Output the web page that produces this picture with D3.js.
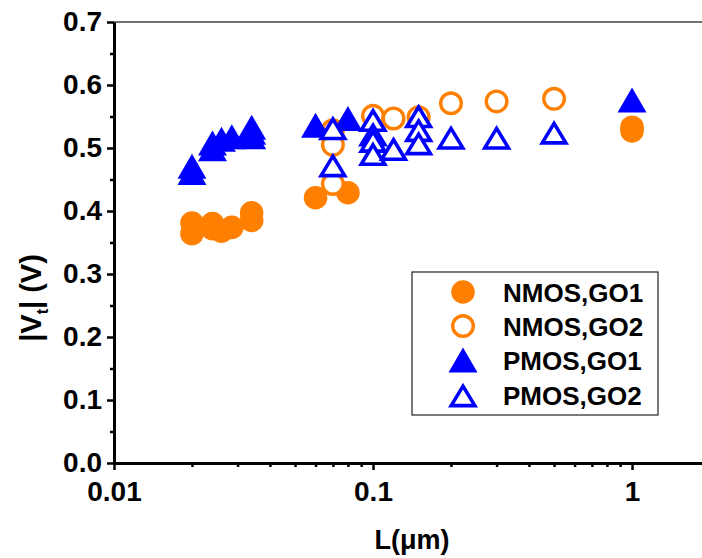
<!DOCTYPE html>
<html><head><meta charset="utf-8">
<script src="https://cdn.jsdelivr.net/npm/d3@7"></script>
<style>
html,body{margin:0;padding:0;background:#fff;}
text{font-family:Arial,"Liberation Sans",sans-serif;font-weight:bold;}
</style></head>
<body>
<svg id="chart" width="702" height="558"></svg>
<script>
// ---- data ----
const nmosGO1_L = [0.02, 0.02, 0.024, 0.024, 0.026, 0.0285, 0.034, 0.034, 0.06, 0.08, 1, 1];
const nmosGO1_V = [0.381, 0.364, 0.380, 0.372, 0.368, 0.374, 0.397, 0.385, 0.421, 0.429, 0.533, 0.527];
const nmosGO2_L = [0.07, 0.07, 0.07, 0.1, 0.12, 0.15, 0.2, 0.3, 0.5];
const nmosGO2_V = [0.528, 0.505, 0.443, 0.551, 0.547, 0.549, 0.571, 0.574, 0.578];
const pmosGO1_L = [0.02, 0.02, 0.024, 0.024, 0.026, 0.0285, 0.034, 0.034, 0.034, 0.06, 0.08, 1];
const pmosGO1_V = [0.471, 0.461, 0.508, 0.499, 0.514, 0.518, 0.533, 0.525, 0.518, 0.536, 0.547, 0.576];
const pmosGO2_L = [0.07, 0.07, 0.1, 0.1, 0.1, 0.1, 0.12, 0.15, 0.15, 0.15, 0.2, 0.3, 0.5];
const pmosGO2_V = [0.532, 0.473, 0.545, 0.522, 0.512, 0.491, 0.499, 0.551, 0.529, 0.508, 0.517, 0.517, 0.525];
const seriesNames = ["NMOS,GO1", "NMOS,GO2", "PMOS,GO1", "PMOS,GO2"];
const yTicks = [0, 0.1, 0.2, 0.3, 0.4, 0.5, 0.6, 0.7];
const yMinor = [0.05, 0.15, 0.25, 0.35, 0.45, 0.55, 0.65];
const xTicks = [0.01, 0.1, 1];
const xTickLabels = ["0.01", "0.1", "1"];
const xMinor = [0.02,0.03,0.04,0.05,0.06,0.07,0.08,0.09,0.2,0.3,0.4,0.5,0.6,0.7,0.8,0.9];

const ORANGE = "#FF8000", BLUE = "#0000FF";
const series = [
  {name: seriesNames[0], L: nmosGO1_L, V: nmosGO1_V, shape: "circle", filled: true,  color: ORANGE},
  {name: seriesNames[1], L: nmosGO2_L, V: nmosGO2_V, shape: "circle", filled: false, color: ORANGE},
  {name: seriesNames[2], L: pmosGO1_L, V: pmosGO1_V, shape: "tri",    filled: true,  color: BLUE},
  {name: seriesNames[3], L: pmosGO2_L, V: pmosGO2_V, shape: "tri",    filled: false, color: BLUE}
];

const svg = d3.select("#chart");
const x = d3.scaleLog().domain([0.01, 2]).range([114, 710]);
const y = d3.scaleLinear().domain([0, 0.7]).range([463, 22]);

// top frame line
svg.append("line").attr("x1", 114).attr("x2", 702).attr("y1", 22).attr("y2", 22)
  .attr("stroke", "#444").attr("stroke-width", 1.5);

// y axis
svg.append("g").attr("transform", "translate(114,0)")
  .call(d3.axisLeft(y).tickValues(yTicks).tickFormat(d3.format(".1f")).tickSize(7).tickSizeOuter(0).tickPadding(5));
svg.append("g").attr("transform", "translate(114,0)")
  .call(d3.axisLeft(y).tickValues(yMinor).tickFormat("").tickSize(4).tickSizeOuter(0))
  .select(".domain").remove();
// x axis
const gx = svg.append("g").attr("transform", "translate(0,463)")
  .call(d3.axisBottom(x).tickValues(xTicks).tickFormat((d, i) => xTickLabels[i]).tickSize(7).tickSizeOuter(0).tickPadding(6));
svg.append("g").attr("transform", "translate(0,463)")
  .call(d3.axisBottom(x).tickValues(xMinor).tickFormat("").tickSize(4).tickSizeOuter(0))
  .select(".domain").remove();

svg.selectAll(".domain").attr("stroke", "#000").attr("stroke-width", 3);
svg.selectAll(".tick line").attr("stroke", "#000").attr("stroke-width", 2.5);
svg.selectAll(".tick text").attr("fill", "#000").style("font-size", "28px")
  .style("font-family", "Arial, 'Liberation Sans', sans-serif").style("font-weight", "bold");
gx.selectAll(".tick text").attr("dy", "0.88em");

// axis titles
svg.append("text").attr("x", 412).attr("y", 549).attr("text-anchor", "middle")
  .style("font-size", "27px").text("L(μm)");
const yt = svg.append("text").attr("transform", "translate(41,298) rotate(-90)")
  .attr("text-anchor", "middle").style("font-size", "29px");
yt.append("tspan").text("|V");
yt.append("tspan").attr("dy", 7).style("font-size", "16px").text("t");
yt.append("tspan").attr("dy", -7).text("| (V)");

// marker drawing
function triPath(a, h) {
  return `M0,${-h/2}L${a},${h/2}L${-a},${h/2}Z`;
}
function drawMarker(g, s) {
  if (s.shape === "circle") {
    if (s.filled) g.append("circle").attr("r", 11.8).attr("fill", s.color);
    else g.append("circle").attr("r", 10.3).attr("fill", "#fff").attr("stroke", s.color).attr("stroke-width", 3.4);
  } else {
    if (s.filled) g.append("path").attr("d", triPath(14.5, 25)).attr("fill", s.color);
    else g.append("path").attr("d", triPath(11.8, 19.5)).attr("transform", "translate(0,0.9)")
      .attr("fill", "#fff").attr("stroke", s.color).attr("stroke-width", 3.6).attr("stroke-linejoin", "miter");
  }
}

series.forEach(s => {
  const g = svg.append("g");
  s.L.forEach((l, i) => {
    const m = g.append("g").attr("transform", `translate(${x(l)},${y(s.V[i])})`);
    drawMarker(m, s);
  });
});

// legend
const lg = svg.append("g");
lg.append("rect").attr("x", 412).attr("y", 272).attr("width", 246).attr("height", 143)
  .attr("fill", "#fff").attr("stroke", "#222").attr("stroke-width", 1.2);
const rowsY = [292, 326, 360, 395];
series.forEach((s, i) => {
  const m = lg.append("g").attr("transform", `translate(463,${rowsY[i]})`);
  drawMarker(m, s);
  lg.append("text").attr("x", 503).attr("y", rowsY[i] + 9.5).style("font-size", "26px").text(s.name);
});
</script>
</body></html>
